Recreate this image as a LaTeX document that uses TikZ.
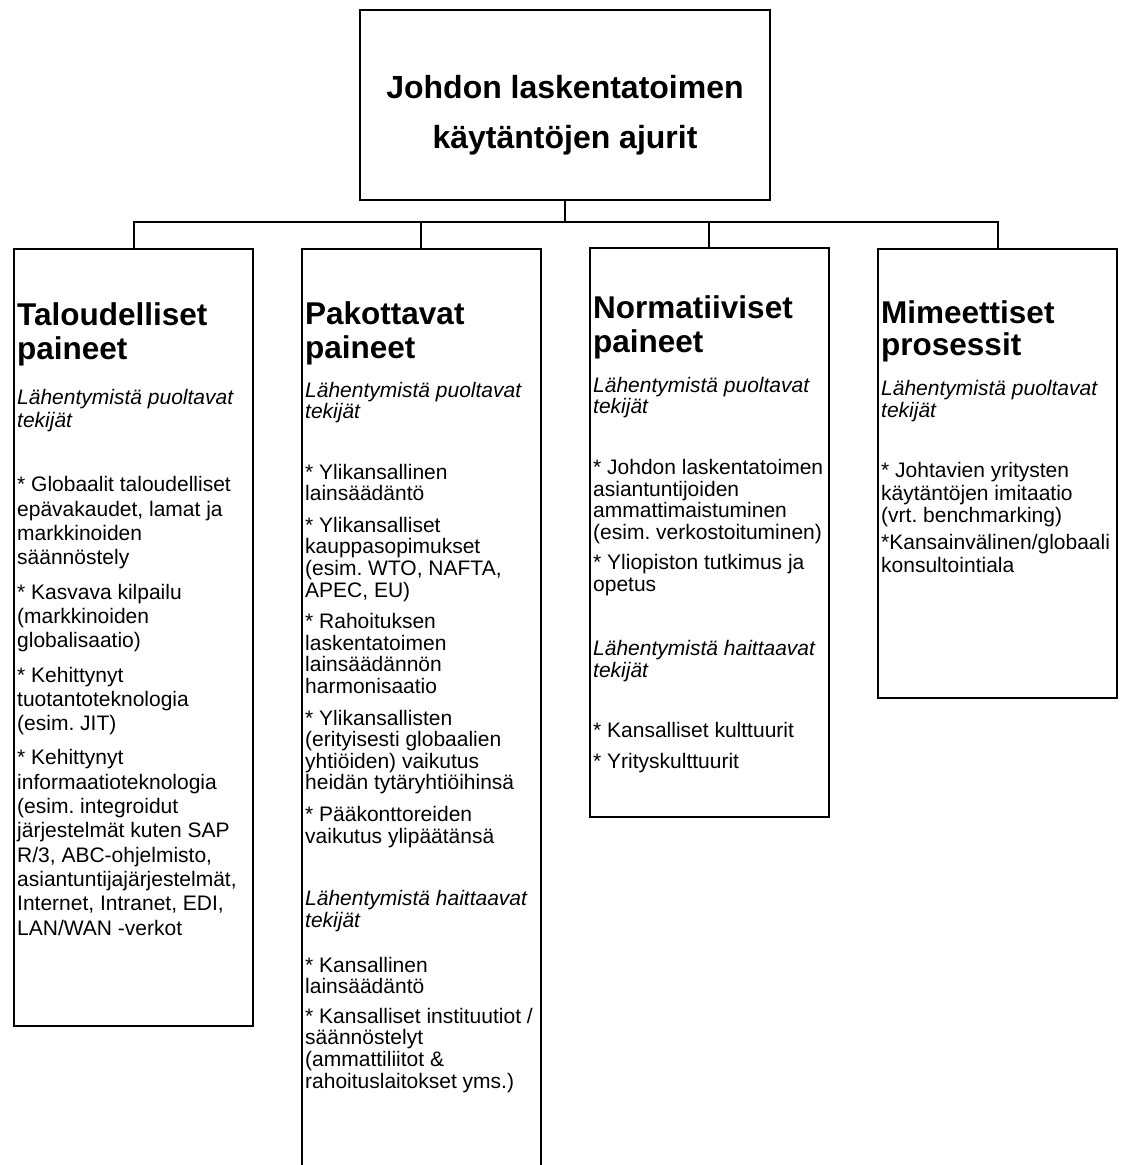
\documentclass[tikz,border=0pt]{standalone}
\usepackage{fontspec}
\setmainfont{Liberation Sans}
\frenchspacing

\tikzset{
  box/.style={draw, line width=2pt, inner sep=0pt, minimum width=239pt},
  link/.style={line width=2pt},
  % multi-line nodes: base = baseline of the last line
  head/.style={anchor=base west, align=left, inner sep=0pt, font=\bfseries\fontsize{31.5}{#1}\selectfont},
  ital/.style={anchor=base west, align=left, inner sep=0pt, font=\itshape\fontsize{21}{#1}\selectfont},
  txt/.style={anchor=base west, align=left, inner sep=0pt, font=\fontsize{21}{#1}\selectfont},
}

\begin{document}
\begin{tikzpicture}[x=1pt, y=-1pt, line join=miter]
  \useasboundingbox (0,0) rectangle (1125,1165);
  % boxes
  \node[box, minimum width=410pt, minimum height=190pt] (ajurit) at (565,105) {};
  \node[box, minimum height=777pt] (tal) at (133.5,637.5) {};
  \node[box, minimum height=926pt] (pak) at (421,712) {};
  \node[box, minimum height=569pt] (nor) at (709,532.5) {};
  \node[box, minimum height=449pt] (mim) at (997.5,473.5) {};
  % tree
  \coordinate (bar) at (565,222);
  \draw[link] (ajurit.south) -- (bar);
  \foreach \b in {tal,pak,nor,mim}
    \draw[link] (bar) -| (\b.north);
  % top title
  \node[anchor=base, align=center, inner sep=0pt, font=\bfseries\fontsize{32}{50}\selectfont] (ajurittxt) at (565,148)
    {Johdon laskentatoimen\\käytäntöjen ajurit};
  % Taloudelliset paineet
  \node[head=34] (talh) at (17,359) {Taloudelliset\\paineet};
  \node[ital=23] (tali) at (17,427) {Lähentymistä puoltavat\\tekijät};
  \node[txt=24.3] (talt) at (17,935) {* Globaalit taloudelliset\\epävakaudet, lamat ja\\markkinoiden\\säännöstely\\[10pt]
    * Kasvava kilpailu\\(markkinoiden\\globalisaatio)\\[10pt]
    * Kehittynyt\\tuotantoteknologia\\(esim. JIT)\\[10pt]
    * Kehittynyt\\informaatioteknologia\\(esim. integroidut\\järjestelmät kuten SAP\\R/3, ABC-ohjelmisto,\\asiantuntijajärjestelmät,\\Internet, Intranet, EDI,\\LAN/WAN -verkot};
  % Pakottavat paineet
  \node[head=34] (pakh) at (305,358) {Pakottavat\\paineet};
  \node[ital=21] (paki) at (305,418) {Lähentymistä puoltavat\\tekijät};
  \node[txt=21.6] (pakt) at (305,843) {* Ylikansallinen\\lainsäädäntö\\[10pt]
    * Ylikansalliset\\kauppasopimukset\\(esim. WTO, NAFTA,\\APEC, EU)\\[10pt]
    * Rahoituksen\\laskentatoimen\\lainsäädännön\\harmonisaatio\\[10pt]
    * Ylikansallisten\\(erityisesti globaalien\\yhtiöiden) vaikutus\\heidän tytäryhtiöihinsä\\[10pt]
    * Pääkonttoreiden\\vaikutus ylipäätänsä};
  \node[ital=22] (pakj) at (305,927) {Lähentymistä haittaavat\\tekijät};
  \node[txt=21.6] (paku) at (305,1088) {* Kansallinen\\lainsäädäntö\\[8pt]
    * Kansalliset instituutiot /\\säännöstelyt\\(ammattiliitot \&\\rahoituslaitokset yms.)};
  % Normatiiviset paineet
  \node[head=34] (norh) at (593,352) {Normatiiviset\\paineet};
  \node[ital=21] (nori) at (593,413) {Lähentymistä puoltavat\\tekijät};
  \node[txt=21.7] (nort) at (593,591) {* Johdon laskentatoimen\\asiantuntijoiden\\ammattimaistuminen\\(esim. verkostoituminen)\\[8pt]
    * Yliopiston tutkimus ja\\opetus};
  \node[ital=22] (norj) at (593,677) {Lähentymistä haittaavat\\tekijät};
  \node[txt=21.7] (noru) at (593,768) {* Kansalliset kulttuurit\\[9pt]
    * Yrityskulttuurit};
  % Mimeettiset prosessit
  \node[head=32] (mimh) at (881,355) {Mimeettiset\\prosessit};
  \node[ital=22] (mimi) at (881,417) {Lähentymistä puoltavat\\tekijät};
  \node[txt=22.5] (mimt) at (881,572) {* Johtavien yritysten\\käytäntöjen imitaatio\\(vrt. benchmarking)\\[4.5pt]
    *Kansainvälinen/globaali\\konsultointiala};
\end{tikzpicture}
\end{document}
